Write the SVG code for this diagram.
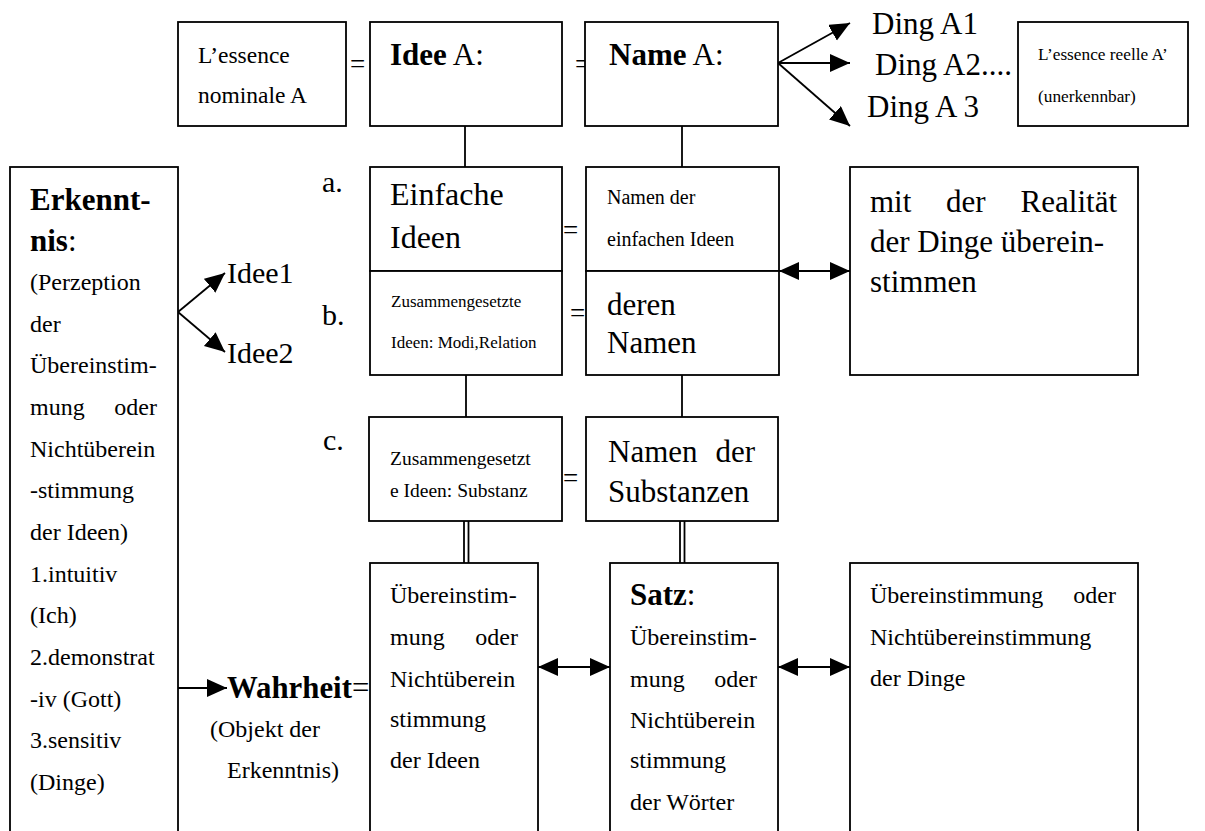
<svg xmlns="http://www.w3.org/2000/svg" width="1205" height="831" viewBox="0 0 1205 831" font-family="'Liberation Serif', 'Times New Roman', serif">
<defs>
<marker id="ah" markerUnits="userSpaceOnUse" markerWidth="22" markerHeight="20" refX="20" refY="9" orient="auto-start-reverse"><path d="M0,0 L20,9 L0,18 z" fill="#000"/></marker>
</defs>
<style>
text{font-family:"Liberation Serif","Times New Roman",serif;fill:#000}
.box{fill:#fff;stroke:#000;stroke-width:1.8}
.ln{stroke:#000;stroke-width:1.8;fill:none}
.arr{stroke:#000;stroke-width:1.8;fill:none;marker-end:url(#ah)}
.dbl{stroke:#000;stroke-width:1.8;fill:none;marker-start:url(#ah);marker-end:url(#ah)}
.L{font-size:31px}
.M{font-size:24px}
.S{font-size:19.5px}
.XS{font-size:17.3px}
.b{font-weight:bold}
</style>
<rect x="0" y="0" width="1205" height="831" fill="#fff"/>
<g id="equals">
<text x="350" y="73" style="font-size:27px">=</text>
<text x="575" y="73" style="font-size:27px">=</text>
<text x="563" y="239" style="font-size:27px">=</text>
<text x="570" y="322" style="font-size:27px">=</text>
<text x="563" y="487" style="font-size:27px">=</text>
</g>
<g id="connectors">
<line class="ln" x1="465" y1="126" x2="465" y2="167"/>
<line class="ln" x1="682" y1="126" x2="682" y2="167"/>
<line class="ln" x1="466" y1="375" x2="466" y2="417"/>
<line class="ln" x1="682" y1="375" x2="682" y2="417"/>
<line class="ln" x1="464" y1="521" x2="464" y2="563"/>
<line class="ln" x1="468.5" y1="521" x2="468.5" y2="563"/>
<line class="ln" x1="680" y1="521" x2="680" y2="563"/>
<line class="ln" x1="684.5" y1="521" x2="684.5" y2="563"/>
<line class="arr" x1="778" y1="63" x2="850" y2="23"/>
<line class="arr" x1="778" y1="63" x2="850" y2="63"/>
<line class="arr" x1="778" y1="63" x2="850" y2="126"/>
<line class="arr" x1="178" y1="312" x2="225" y2="273"/>
<line class="arr" x1="178" y1="312" x2="225" y2="352"/>
<line class="arr" x1="178" y1="688" x2="227" y2="688"/>
<line class="dbl" x1="779" y1="271" x2="850" y2="271"/>
<line class="dbl" x1="538" y1="667" x2="610" y2="667"/>
<line class="dbl" x1="778" y1="667" x2="850" y2="667"/>
</g>
<g id="n_essence_nominale">
<rect class="box" x="178" y="22" width="168" height="104"/>
<text x="198" y="63" style="font-size:23.5px">L’essence</text>
<text x="198" y="103" style="font-size:23.5px">nominale A</text>
</g>
<g id="n_idee_a">
<rect class="box" x="370" y="22" width="192" height="104"/>
<text x="390" y="65" class="L"><tspan class="b">Idee</tspan> A:</text>
</g>
<g id="n_name_a">
<rect class="box" x="585" y="22" width="193" height="104"/>
<text x="609" y="65" class="L"><tspan class="b">Name</tspan> A:</text>
</g>
<g id="n_ding_a1"><text x="872" y="34" class="L">Ding A1</text></g>
<g id="n_ding_a2"><text x="875" y="75" class="L">Ding A2....</text></g>
<g id="n_ding_a3"><text x="867" y="117" class="L">Ding A 3</text></g>
<g id="n_essence_reelle">
<rect class="box" x="1018" y="22" width="170" height="104"/>
<text x="1038" y="60" class="XS">L’essence reelle A’</text>
<text x="1038" y="102" class="XS">(unerkennbar)</text>
</g>
<g id="labels_abc">
<text x="322" y="192" style="font-size:30px">a.</text>
<text x="322" y="325" style="font-size:30px">b.</text>
<text x="323" y="450" style="font-size:30px">c.</text>
</g>
<g id="n_einfache_ideen">
<rect class="box" x="370" y="167" width="192" height="104"/>
<text x="390" y="205" style="font-size:32px">Einfache</text>
<text x="390" y="248" style="font-size:32px">Ideen</text>
</g>
<g id="n_zusammengesetzte_modi">
<rect class="box" x="370" y="271" width="192" height="104"/>
<text x="391" y="307" style="font-size:17px">Zusammengesetzte</text>
<text x="391" y="348" style="font-size:17px">Ideen: Modi,Relation</text>
</g>
<g id="n_namen_einfachen">
<rect class="box" x="586" y="167" width="193" height="104"/>
<text x="607" y="204" style="font-size:20px">Namen der</text>
<text x="607" y="246" style="font-size:20px">einfachen Ideen</text>
</g>
<g id="n_deren_namen">
<rect class="box" x="586" y="271" width="193" height="104"/>
<text x="607" y="315" class="L">deren</text>
<text x="607" y="353" class="L">Namen</text>
</g>
<g id="n_realitaet">
<rect class="box" x="850" y="167" width="288" height="208"/>
<text y="212" class="L"><tspan x="870">mit</tspan><tspan x="946">der</tspan></text>
<text x="1117" y="212" class="L" text-anchor="end">Realität</text>
<text x="870" y="252" class="L">der Dinge überein-</text>
<text x="870" y="292" class="L">stimmen</text>
</g>
<g id="n_zusammengesetzte_substanz">
<rect class="box" x="369" y="417" width="193" height="104"/>
<text x="390" y="465" class="S">Zusammengesetzt</text>
<text x="390" y="497" class="S">e Ideen: Substanz</text>
</g>
<g id="n_namen_substanzen">
<rect class="box" x="586" y="417" width="192" height="104"/>
<text x="608" y="462" class="L">Namen</text>
<text x="755" y="462" class="L" text-anchor="end">der</text>
<text x="608" y="502" class="L">Substanzen</text>
</g>
<g id="n_erkenntnis">
<rect class="box" x="10" y="167" width="168" height="690"/>
<text x="30" y="210" class="L b">Erkennt-</text>
<text x="30" y="251" class="L"><tspan class="b">nis</tspan>:</text>
<g class="M">
<text x="30" y="290">(Perzeption</text>
<text x="30" y="332">der</text>
<text x="30" y="373">Übereinstim-</text>
<text x="30" y="415">mung</text>
<text x="157" y="415" text-anchor="end">oder</text>
<text x="30" y="457">Nichtüberein</text>
<text x="30" y="498">-stimmung</text>
<text x="30" y="540">der Ideen)</text>
<text x="30" y="582">1.intuitiv</text>
<text x="30" y="623">(Ich)</text>
<text x="30" y="665">2.demonstrat</text>
<text x="30" y="707">-iv (Gott)</text>
<text x="30" y="748">3.sensitiv</text>
<text x="30" y="790">(Dinge)</text>
</g>
</g>
<g id="n_idee1"><text x="227" y="283" style="font-size:30px">Idee1</text></g>
<g id="n_idee2"><text x="227" y="363" style="font-size:30px">Idee2</text></g>
<g id="n_wahrheit">
<text x="227" y="698" style="font-size:30.8px"><tspan class="b">Wahrheit</tspan>=</text>
<text x="210" y="737" class="M">(Objekt der</text>
<text x="227" y="778" class="M">Erkenntnis)</text>
</g>
<g id="n_uebereinstimmung_ideen">
<rect class="box" x="370" y="563" width="168" height="300"/>
<g class="M">
<text x="390" y="603">Übereinstim-</text>
<text x="390" y="645">mung</text>
<text x="518" y="645" text-anchor="end">oder</text>
<text x="390" y="687">Nichtüberein</text>
<text x="390" y="727">stimmung</text>
<text x="390" y="768">der Ideen</text>
</g>
</g>
<g id="n_satz">
<rect class="box" x="610" y="563" width="168" height="300"/>
<text x="630" y="605" class="L"><tspan class="b">Satz</tspan>:</text>
<g class="M">
<text x="630" y="645">Übereinstim-</text>
<text x="630" y="687">mung</text>
<text x="757" y="687" text-anchor="end">oder</text>
<text x="630" y="728">Nichtüberein</text>
<text x="630" y="768">stimmung</text>
<text x="630" y="810">der Wörter</text>
</g>
</g>
<g id="n_uebereinstimmung_dinge">
<rect class="box" x="850" y="563" width="288" height="300"/>
<g class="M">
<text x="870" y="603">Übereinstimmung</text>
<text x="1116" y="603" text-anchor="end">oder</text>
<text x="870" y="645">Nichtübereinstimmung</text>
<text x="870" y="686">der Dinge</text>
</g>
</g>
</svg>
